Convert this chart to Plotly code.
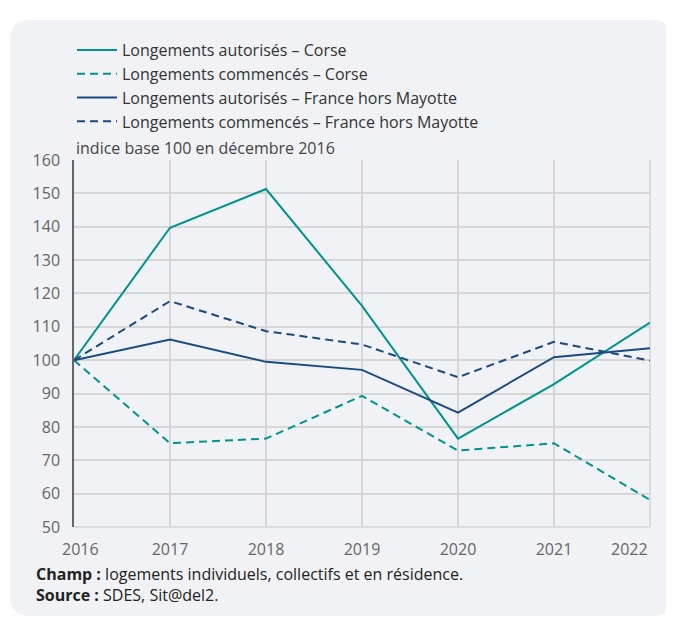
import plotly.graph_objects as go

years = [2016, 2017, 2018, 2019, 2020, 2021, 2022]
year_labels = ["2016", "2017", "2018", "2019", "2020", "2021", "2022"]
aut_corse = [100, 139.7, 151.3, 116.3, 76.5, 92.8, 111.3]
com_corse = [100, 75.1, 76.5, 89.3, 72.9, 75.1, 58.1]
aut_france = [100, 106.2, 99.5, 97.1, 84.3, 100.9, 103.6]
com_france = [100, 117.7, 108.7, 104.7, 94.9, 105.5, 99.9]

names = [
    "Longements autorisés – Corse",
    "Longements commencés – Corse",
    "Longements autorisés – France hors Mayotte",
    "Longements commencés – France hors Mayotte",
]
teal = "#00928c"
navy = "#1b4a7e"

O = 8  # page body margin
W, H = 674 - O, 617 - O
L, R, T, B = 74 - O, 650 - O, 160 - O, 527 - O
pw, ph = R - L, B - T

def px(x):
    return (x - O - L) / pw

def py(y):
    return (B - (y - O)) / ph

fig = go.Figure()
series = [(aut_corse, teal, "solid"), (com_corse, teal, "8px,5px"),
          (aut_france, navy, "solid"), (com_france, navy, "8px,5px")]
for i, (vals, col, dash) in enumerate(series):
    fig.add_trace(go.Scatter(x=years, y=vals, mode="lines", name=names[i],
                             legendgroup=str(i),
                             line=dict(color=col, width=2, dash=dash)))

# rounded panel
x0, x1, y0, y1, r = 10, 672, 20, 616, 20
path = (f"M {px(x0+r)},{py(y0)} L {px(x1-r)},{py(y0)} Q {px(x1)},{py(y0)} {px(x1)},{py(y0+r)} "
        f"L {px(x1)},{py(y1-r)} Q {px(x1)},{py(y1)} {px(x1-r)},{py(y1)} "
        f"L {px(x0+r)},{py(y1)} Q {px(x0)},{py(y1)} {px(x0)},{py(y1-r)} "
        f"L {px(x0)},{py(y0+r)} Q {px(x0)},{py(y0)} {px(x0+r)},{py(y0)} Z")
fig.add_shape(type="path", path=path, xref="paper", yref="paper",
              fillcolor="#f0f2f5", line=dict(width=0), layer="below")
fig.add_shape(type="line", xref="paper", yref="paper", x0=1, x1=1, y0=0, y1=1,
              line=dict(color="#d6d6d6", width=1.5), layer="below")
fig.add_shape(type="line", xref="paper", yref="paper", x0=0, x1=1, y0=0, y1=0,
              line=dict(color="#d6d6d6", width=1.5), layer="below")
fig.add_shape(type="line", xref="paper", yref="y", x0=0, x1=1, y0=100, y1=100,
              line=dict(color="#555555", width=1.5), layer="below")

fig.add_annotation(text="indice base 100 en décembre 2016", xref="paper", yref="paper",
                   x=0, y=py(148), xanchor="left", yanchor="middle", showarrow=False,
                   font=dict(size=16, color="#444444"))
fig.add_annotation(text="<b>Champ :</b> logements individuels, collectifs et en résidence.",
                   xref="paper", yref="paper", x=px(34), y=py(574), xanchor="left",
                   yanchor="middle", showarrow=False, font=dict(size=16, color="#222222"))
fig.add_annotation(text="<b>Source :</b> SDES, Sit@del2.",
                   xref="paper", yref="paper", x=px(34), y=py(595), xanchor="left",
                   yanchor="middle", showarrow=False, font=dict(size=16, color="#222222"))

# end tick labels aligned inside the plot width
fig.add_annotation(text=year_labels[0], xref="x", yref="paper", x=years[0], y=py(549),
                   xanchor="left", xshift=-14, yanchor="middle", showarrow=False,
                   font=dict(size=16, color="#666666"))
fig.add_annotation(text=year_labels[-1], xref="x", yref="paper", x=years[-1], y=py(549),
                   xanchor="right", yanchor="middle", showarrow=False,
                   font=dict(size=16, color="#666666"))

fig.update_layout(
    width=W, height=H,
    margin=dict(l=L, r=W - R, t=T, b=H - B, pad=0),
    paper_bgcolor="white", plot_bgcolor="rgba(0,0,0,0)",
    font=dict(family="Open Sans", size=16, color="#666666"),
    showlegend=True,
    legend=dict(x=px(72), y=py(33), xanchor="left", yanchor="top",
                bgcolor="rgba(0,0,0,0)", traceorder="grouped", tracegroupgap=0,
                itemwidth=40,
                font=dict(size=16, color="#333333")),
    xaxis=dict(range=[2016, 2022], tickvals=years,
               ticktext=[""] + year_labels[1:-1] + [""],
               showgrid=True, gridcolor="#d6d6d6",
               gridwidth=1.5, zeroline=False, showline=False, ticks="outside", ticklen=8,
               tickcolor="rgba(0,0,0,0)"),
    yaxis=dict(range=[50, 160], dtick=10, showgrid=True, gridcolor="#d6d6d6", gridwidth=1.5,
               zeroline=False, showline=True, linecolor="#666666", linewidth=1.5,
               ticks="outside", ticklen=9, tickcolor="rgba(0,0,0,0)"),
)
fig.write_html("out.html")
